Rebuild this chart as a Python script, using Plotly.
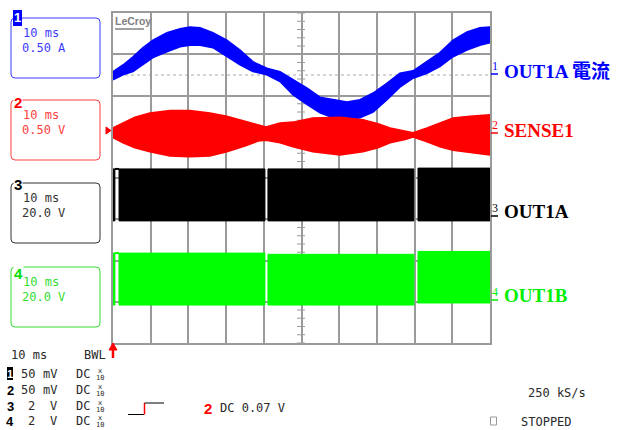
import plotly.graph_objects as go

W, H = 625, 430

# ---------------- data (read from the screen) ----------------
# time axis: 10 ms/div, 10 divisions
T1 = [0, 2.65, 5.3, 7.96, 10.6, 14.3, 17.8, 20.4, 23.1, 26.5, 30.2, 33.7, 37.1, 40.8, 44.3, 47.7,
      51.5, 54.9, 58.4, 62.1, 65.5, 69.0, 72.7, 76.1, 79.6, 83.3, 86.7, 90.2, 93.9, 97.3, 100]
# channel 1 (OUT1A current, A) - upper / lower edge of ripple band
I1_HI = [0.04, 0.12, 0.22, 0.33, 0.42, 0.51, 0.56, 0.58, 0.57, 0.51, 0.42, 0.30, 0.16, 0.08, 0.04, -0.05,
         -0.16, -0.27, -0.30, -0.33, -0.30, -0.22, -0.10, 0.02, 0.05, 0.16, 0.27, 0.42, 0.52, 0.57, 0.58]
I1_LO = [-0.06, 0.00, 0.04, 0.12, 0.21, 0.28, 0.34, 0.36, 0.36, 0.33, 0.22, 0.12, 0.04, 0.00, -0.08, -0.24,
         -0.36, -0.46, -0.52, -0.55, -0.52, -0.45, -0.30, -0.15, -0.04, 0.02, 0.10, 0.22, 0.30, 0.36, 0.39]

# channel 2 (SENSE1, V) envelope
T2 = [0, 2.65, 5.8, 9.8, 15.1, 20.4, 25.7, 30.2, 35.0, 38.5, 40.6, 44.3, 47.7, 53.0, 60.2, 66.3,
      70.3, 73.5, 77.5, 79.6, 83.3, 86.7, 90.2, 94.7, 100]
V2_HI = [0.08, 0.14, 0.21, 0.26, 0.29, 0.29, 0.26, 0.22, 0.16, 0.12, 0.09, 0.14, 0.15, 0.20, 0.21, 0.18,
         0.13, 0.08, 0.04, 0.02, 0.08, 0.14, 0.20, 0.22, 0.24]
V2_LO = [-0.04, -0.10, -0.16, -0.21, -0.26, -0.27, -0.26, -0.21, -0.14, -0.08, -0.07, -0.10, -0.15, -0.21,
         -0.25, -0.21, -0.16, -0.10, -0.06, -0.03, -0.09, -0.15, -0.19, -0.22, -0.25]

# channels 3/4 (OUT1A / OUT1B PWM, V): switching segments separated by short pauses
SEG_START = [0.0, 1.6, 41.1, 80.9]
SEG_END = [0.5, 40.3, 79.8, 100.0]
CH3_LOW = [0, 0, 0, 0]
CH3_HIGH = [25.2, 25.2, 25.2, 25.6]
CH4_LOW = [0, 0, 0, 1.0]
CH4_HIGH = [25.2, 25.2, 24.6, 26.0]

# vertical settings (units per division) and ground offsets (divisions)
SCALE = {1: 0.5, 2: 0.5, 3: 20.0, 4: 20.0}
OFFSET = {1: 2.5, 2: 1.055, 3: -1.04, 4: -3.08}
COL = {1: '#0000ff', 2: '#ff0000', 3: '#000000', 4: '#00ff00'}


def dv(ch, vals):
    return [OFFSET[ch] + v / SCALE[ch] for v in vals]


# ---------------- geometry helpers (pixel -> paper) ----------------
PX0, PX1, PY0, PY1 = 113, 490, 13, 343


def X(px):
    return px / W


def Y(py):
    return 1 - py / H


fig = go.Figure()

# ch1 band
fig.add_trace(go.Scatter(x=T1, y=dv(1, I1_LO), mode='lines', line=dict(color=COL[1], width=1.5),
                         showlegend=False, hoverinfo='skip'))
fig.add_trace(go.Scatter(x=T1, y=dv(1, I1_HI), mode='lines', line=dict(color=COL[1], width=1.5),
                         fill='tonexty', fillcolor=COL[1], showlegend=False, hoverinfo='skip'))
# ch2 band
fig.add_trace(go.Scatter(x=T2, y=dv(2, V2_LO), mode='lines', line=dict(color=COL[2], width=1.5),
                         showlegend=False, hoverinfo='skip'))
fig.add_trace(go.Scatter(x=T2, y=dv(2, V2_HI), mode='lines', line=dict(color=COL[2], width=1.5),
                         fill='tonexty', fillcolor=COL[2], showlegend=False, hoverinfo='skip'))
# ch3/ch4 PWM blocks
for ch, lo, hi in ((3, CH3_LOW, CH3_HIGH), (4, CH4_LOW, CH4_HIGH)):
    for s, e, l, h in zip(SEG_START, SEG_END, lo, hi):
        yl, yh = dv(ch, [l, h])
        fig.add_trace(go.Scatter(x=[s, e, e, s, s], y=[yl, yl, yh, yh, yl], mode='lines',
                                 line=dict(color=COL[ch], width=1), fill='toself', fillcolor=COL[ch],
                                 showlegend=False, hoverinfo='skip'))
    # level held during the first pause
    yh = dv(ch, [hi[0]])[0]
    fig.add_trace(go.Scatter(x=[SEG_END[0], SEG_START[1]], y=[yh, yh], mode='lines',
                             line=dict(color=COL[ch], width=2), showlegend=False, hoverinfo='skip'))

shapes = []
ann = []

# centre-axis minor ticks
for k in range(41):
    yp = PY0 + k * (PY1 - PY0) / 40
    shapes.append(dict(type='line', xref='paper', yref='paper', x0=X(297), x1=X(305), y0=Y(yp), y1=Y(yp),
                       line=dict(color='#999999', width=1), layer='below'))
for k in range(51):
    xp = PX0 + k * (PX1 - PX0) / 50
    shapes.append(dict(type='line', xref='paper', yref='paper', x0=X(xp), x1=X(xp), y0=Y(174), y1=Y(182),
                       line=dict(color='#999999', width=1), layer='below'))
# ch1 reference dotted line
shapes.append(dict(type='line', xref='paper', yref='paper', x0=X(PX0), x1=X(PX1), y0=Y(75), y1=Y(75),
                   line=dict(color='#aaaaaa', width=1, dash='dot'), layer='below'))


def rrect(x0, y0, x1, y1, r, color):
    rx, ry = r / W, r / H
    a, b, c, d = X(x0), X(x1), Y(y0), Y(y1)
    path = (f"M {a+rx},{c} L {b-rx},{c} Q {b},{c} {b},{c-ry} L {b},{d+ry} Q {b},{d} {b-rx},{d} "
            f"L {a+rx},{d} Q {a},{d} {a},{d+ry} L {a},{c-ry} Q {a},{c} {a+rx},{c} Z")
    shapes.append(dict(type='path', xref='paper', yref='paper', path=path, line=dict(color=color, width=1)))


def txt(x, y, s, color, size=12, family='DejaVu Sans Mono', xanchor='left', bg=None):
    d = dict(x=X(x), y=Y(y), xref='paper', yref='paper', text=s, showarrow=False, xanchor=xanchor,
             yanchor='middle', font=dict(family=family, size=size, color=color), borderpad=0)
    if bg:
        d['bgcolor'] = bg
    ann.append(d)


# left channel boxes
BOX_Y = [(18, 78), (100, 160), (183, 243), (267, 327)]
BOX_COL = ['#3c3cff', '#ff4040', '#333333', '#33dd33']
BOX_L1 = ['10 ms'] * 4
BOX_L2 = ['0.50 A', '0.50 V', '20.0 V', '20.0 V']
for i, ((y0, y1), c) in enumerate(zip(BOX_Y, BOX_COL)):
    rrect(11, y0, 100, y1, 4, c)
    txt(22, y0 + 15, BOX_L1[i], c)
    txt(21, y0 + 30, BOX_L2[i], c)
# box number tags
shapes.append(dict(type='rect', xref='paper', yref='paper', x0=X(13), x1=X(22), y0=Y(10), y1=Y(26),
                   fillcolor='#0000ff', line=dict(width=0)))
txt(17.5, 18, '<b>1</b>', '#ffffff', 13, 'Liberation Sans', 'center')
txt(18, 102, '<b>2</b>', '#ff0000', 15, 'Liberation Sans', 'center', bg='#ffffff')
txt(18, 184, '<b>3</b>', '#000000', 15, 'Liberation Sans', 'center', bg='#ffffff')
txt(18, 273, '<b>4</b>', '#00dd00', 15, 'Liberation Sans', 'center', bg='#ffffff')

# LeCroy logo
txt(114, 21, '<b>LeCroy</b>', '#808080', 10.5, 'Liberation Sans')
shapes.append(dict(type='line', xref='paper', yref='paper', x0=X(115), x1=X(144), y0=Y(29), y1=Y(29),
                   line=dict(color='#808080', width=1.5)))

# trigger level marker
shapes.append(dict(type='path', xref='paper', yref='paper',
                   path=f"M {X(106)},{Y(127)} L {X(111)},{Y(130.5)} L {X(106)},{Y(134)} Z",
                   fillcolor='#ff0000', line=dict(color='#ff0000', width=1)))

# right channel labels
LAB = ['OUT1A 電流', 'SENSE1', 'OUT1A', 'OUT1B']
LAB_Y = [71, 130, 211, 295]
NUM_Y = [66, 125, 208, 292]
LAB_COL = ['#0000ff', '#ff0000', '#000000', '#00ee00']
for i in range(4):
    txt(503, LAB_Y[i], f'<b>{LAB[i]}</b>', LAB_COL[i], 19,
        'Liberation Serif, Noto Sans CJK TC')
    txt(494.5, NUM_Y[i], f'{i+1}', LAB_COL[i], 12, 'Liberation Serif', 'center')
    shapes.append(dict(type='line', xref='paper', yref='paper', x0=X(491), x1=X(498), y0=Y(NUM_Y[i] + 8),
                       y1=Y(NUM_Y[i] + 8), line=dict(color=LAB_COL[i], width=1.5)))

# bottom status area
DARK = '#2a2a2a'
txt(10, 355, '10 ms', DARK)
txt(83, 355, 'BWL', DARK)
shapes.append(dict(type='line', xref='paper', yref='paper', x0=X(113), x1=X(113), y0=Y(358), y1=Y(348),
                   line=dict(color='#ff0000', width=2.5)))
shapes.append(dict(type='path', xref='paper', yref='paper',
                   path=f"M {X(109)},{Y(350)} L {X(113)},{Y(343)} L {X(117)},{Y(350)} Z",
                   fillcolor='#ff0000', line=dict(color='#ff0000', width=1)))

ROW_Y = [374, 390, 406, 421]
ROW_V = ['50', '50', '2', '2']
ROW_U = ['mV', 'mV', 'V', 'V']
for i, yy in enumerate(ROW_Y):
    if i == 0:
        shapes.append(dict(type='rect', xref='paper', yref='paper', x0=X(7), x1=X(13), y0=Y(yy - 7),
                           y1=Y(yy + 6), fillcolor='#000000', line=dict(width=0)))
        txt(10, yy, '<b>1</b>', '#ffffff', 11, 'Liberation Sans', 'center')
    else:
        txt(10, yy, f'<b>{i+1}</b>', '#000000', 13, 'Liberation Sans', 'center')
    txt(36, yy, ROW_V[i], DARK, xanchor='right')
    txt(58, yy, ROW_U[i], DARK, xanchor='right')
    txt(75, yy, 'DC', DARK)
    txt(100, yy - 3.5, 'x', DARK, 7, xanchor='center')
    txt(100, yy + 3.5, '10', DARK, 7, xanchor='center')

# trigger icon
shapes.append(dict(type='line', xref='paper', yref='paper', x0=X(128), x1=X(144), y0=Y(414.5), y1=Y(414.5),
                   line=dict(color='#000000', width=1)))
shapes.append(dict(type='line', xref='paper', yref='paper', x0=X(144.5), x1=X(144.5), y0=Y(414.5),
                   y1=Y(403), line=dict(color='#ff0000', width=1.5)))
shapes.append(dict(type='line', xref='paper', yref='paper', x0=X(144.5), x1=X(164), y0=Y(403), y1=Y(403),
                   line=dict(color='#000000', width=1)))
txt(208, 408, '<b>2</b>', '#ff0000', 15, 'Liberation Sans', 'center')
txt(219, 408, 'DC 0.07 V', DARK)

txt(527, 393, '250 kS/s', DARK)
shapes.append(dict(type='rect', xref='paper', yref='paper', x0=X(490.5), x1=X(496.5), y0=Y(417), y1=Y(425),
                   line=dict(color='#999999', width=1)))
txt(520, 422, 'STOPPED', DARK)

fig.update_layout(
    width=W, height=H, margin=dict(l=0, r=0, t=0, b=0),
    paper_bgcolor='white', plot_bgcolor='white',
    shapes=shapes, annotations=ann,
    xaxis=dict(domain=[X(PX0), X(PX1)], range=[0, 100], dtick=10, tick0=0, showgrid=True,
               gridcolor='#9a9a9a', gridwidth=1.5, zeroline=False, showline=True, linecolor='#9a9a9a',
               linewidth=1.5, mirror=True, showticklabels=False, ticks='', fixedrange=True),
    yaxis=dict(domain=[Y(PY1), Y(PY0)], range=[-4, 4], dtick=1, tick0=0, showgrid=True,
               gridcolor='#9a9a9a', gridwidth=1.5, zeroline=False, showline=True, linecolor='#9a9a9a',
               linewidth=1.5, mirror=True, showticklabels=False, ticks='', fixedrange=True),
)

fig.write_html("out.html")
